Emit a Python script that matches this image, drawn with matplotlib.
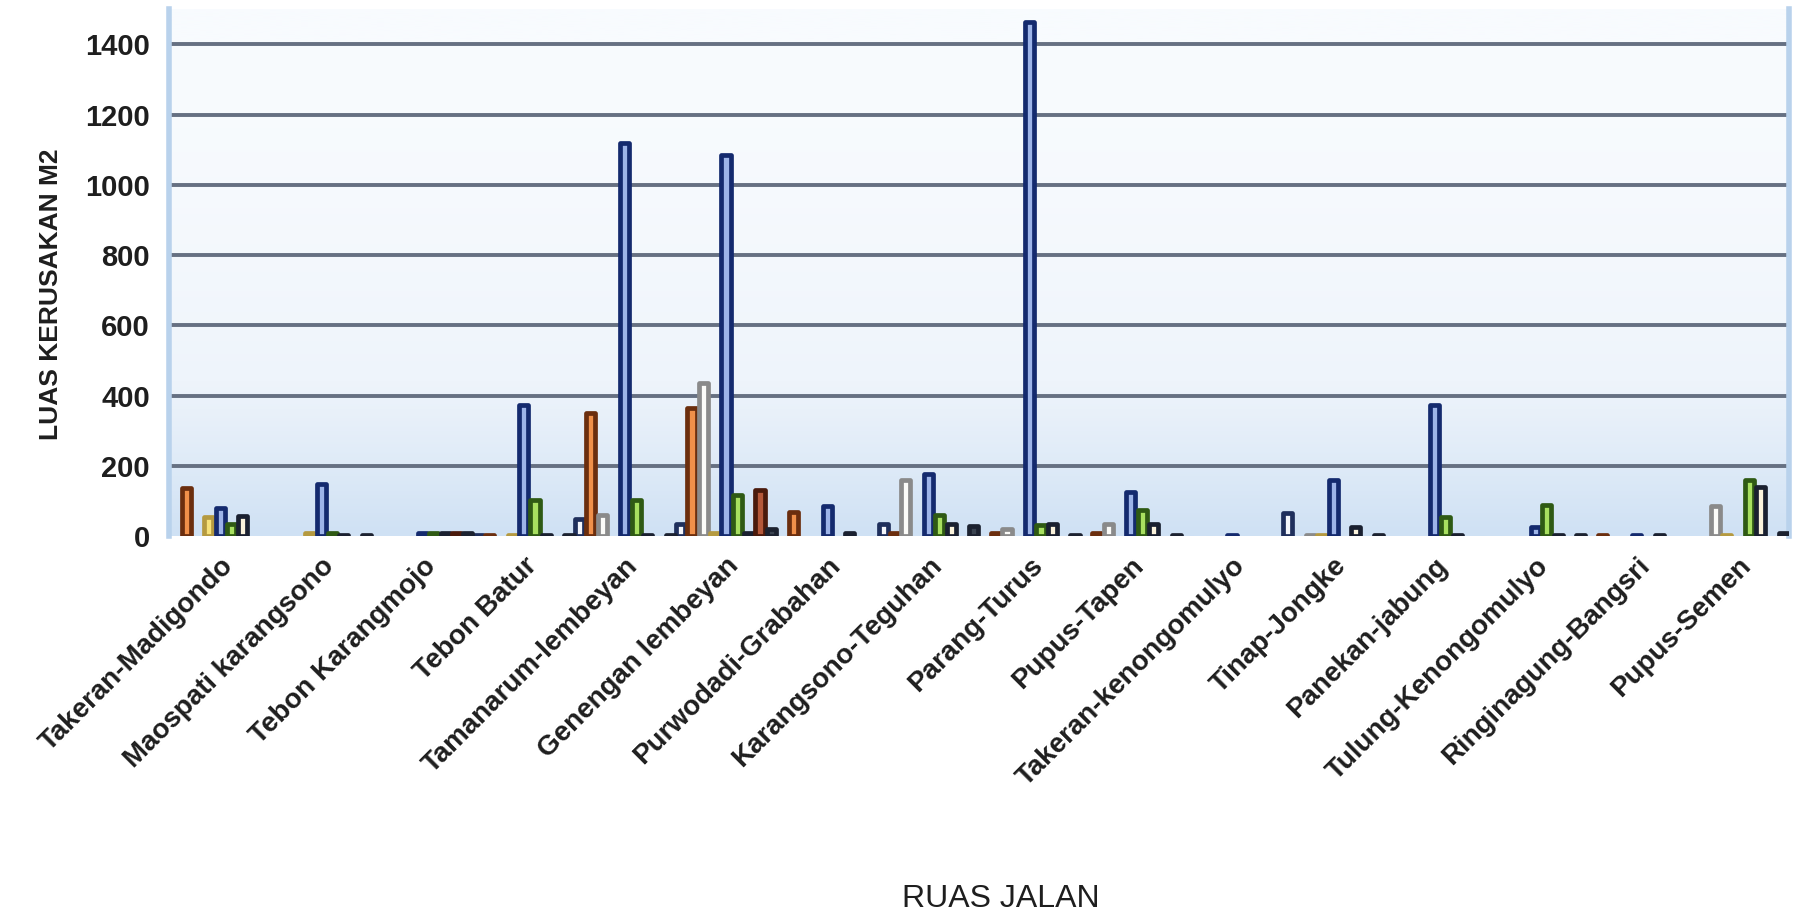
import numpy as np
import matplotlib
matplotlib.use("Agg")
import matplotlib.pyplot as plt
from matplotlib.colors import LinearSegmentedColormap

# ruas jalan (categories)
ruas = ['Takeran-Madigondo', 'Maospati karangsono', 'Tebon Karangmojo', 'Tebon Batur',
        'Tamanarum-lembeyan', 'Genengan lembeyan', 'Purwodadi-Grabahan', 'Karangsono-Teguhan',
        'Parang-Turus', 'Pupus-Tapen', 'Takeran-kenongomulyo', 'Tinap-Jongke',
        'Panekan-jabung', 'Tulung-Kenongomulyo', 'Ringinagung-Bangsri', 'Pupus-Semen']

# luas kerusakan (m2) per jenis kerusakan, one list per series
s1 = [0, 0, 0, 5, 50, 36, 0, 36, 0, 0, 0, 65, 0, 0, 0, 0]
s2 = [136, 0, 0, 5, 350, 364, 69, 8, 10, 10, 0, 0, 0, 0, 5, 0]
s3 = [0, 0, 0, 0, 60, 437, 0, 160, 22, 34, 0, 5, 0, 0, 0, 85]
s4 = [55, 8, 0, 5, 0, 10, 0, 0, 0, 0, 0, 5, 0, 0, 0, 5]
s5 = [80, 148, 8, 373, 1120, 1085, 85, 177, 1465, 126, 5, 160, 373, 25, 5, 0]
s6 = [34, 10, 8, 103, 103, 117, 0, 60, 31, 76, 0, 0, 55, 88, 0, 160]
s7 = [58, 5, 8, 5, 5, 10, 10, 36, 34, 34, 0, 27, 5, 5, 5, 139]
s8 = [0, 0, 8, 0, 0, 131, 0, 0, 0, 0, 0, 0, 0, 0, 0, 0]
s9 = [0, 5, 8, 5, 5, 22, 0, 30, 5, 5, 0, 5, 0, 5, 0, 10]
series = [s1, s2, s3, s4, s5, s6, s7, s8, s9]

faces = ['#f4f6fb', '#f0904a', '#fbfbf8', '#f7e27a', '#9db4e8',
         '#a8e060', '#fbf3dc', '#b4583a', '#3a4350']
edges = ['#1f2f5c', '#6b2e0e', '#8a8a8a', '#b59a40', '#142a6e',
         '#2f5a14', '#1a2030', '#4a1a0c', '#1c2230']

plt.rcParams['font.family'] = ['Liberation Sans', 'DejaVu Sans']

fig = plt.figure(figsize=(18.03, 9.23), dpi=100)
ax = fig.add_axes([0.094, 0.419, 0.898, 0.571])

# background gradient of plot area
cmap = LinearSegmentedColormap.from_list('bg', ['#f8fbfe', '#eef4fb', '#cfe1f4'])
grad = np.linspace(0, 1, 256).reshape(-1, 1) ** 2
ax.imshow(grad, aspect='auto', cmap=cmap, extent=[-0.5, 15.5, 0, 1500],
          origin='upper', zorder=0)

x = np.arange(len(ruas))
step = 0.112
width = 0.09
for k, vals in enumerate(series):
    bars = ax.bar(x + (k - 4) * step, vals, width=width, color=faces[k],
                  edgecolor=edges[k], linewidth=3.4, joinstyle='round', zorder=3)
    for b, v in zip(bars, vals):
        if v == 0:
            b.set_visible(False)

ax.set_xlim(-0.5, 15.5)
ax.set_ylim(0, 1500)
yt = np.arange(0, 1401, 200)
ax.set_yticks(yt)
for y in yt[1:]:
    ax.axhline(y, color='#667082', linewidth=2.8, zorder=1)

ax.set_xticks(x)
ax.set_xticklabels(ruas, rotation=45, ha='right', rotation_mode='anchor',
                   fontsize=20, fontweight='bold', color='#1e1e1e')
ax.tick_params(axis='x', length=0, pad=12)
ax.tick_params(axis='y', length=0, pad=14, labelsize=21, labelcolor='#1e1e1e')
for t in ax.get_yticklabels():
    t.set_fontweight('bold')

for s in ['top', 'bottom']:
    ax.spines[s].set_visible(False)
for s in ['left', 'right']:
    ax.spines[s].set_color('#b9d2ec')
    ax.spines[s].set_linewidth(4)

ax.set_ylabel('LUAS KERUSAKAN M2', fontsize=19, fontweight='bold', color='#1e1e1e')
ax.yaxis.set_label_coords(-0.066, 0.46)
fig.text(0.555, 0.026, 'RUAS JALAN', fontsize=23,
         ha='center', va='center', color='#1e1e1e')

fig.savefig('out.png', dpi=100, facecolor='white')
